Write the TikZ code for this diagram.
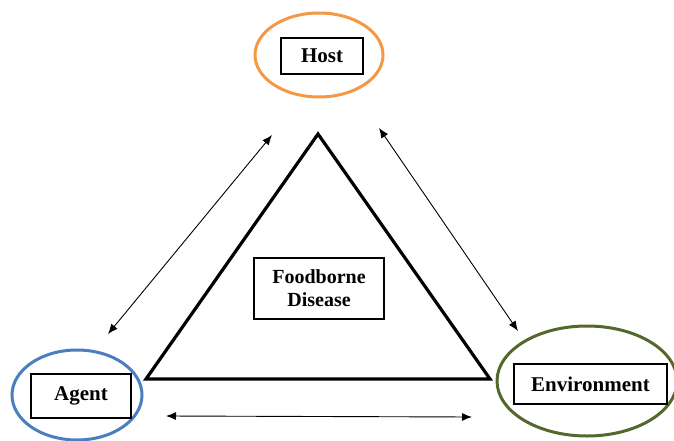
\documentclass[tikz,border=0pt]{standalone}
\usepackage{fontspec}
\setmainfont{Liberation Serif}
\usetikzlibrary{arrows.meta}
\begin{document}
\begin{tikzpicture}[x=1pt,y=-1pt,
  lbl/.style={draw,line width=1.5pt,font=\fontsize{21}{24}\selectfont\bfseries,inner sep=0pt,align=center},
  link/.style={line width=0.9pt,{Latex[length=10pt,width=8pt]}-{Latex[length=10pt,width=8pt]}}]
\useasboundingbox (0,0) rectangle (674,441);
% ellipses
\draw[draw={rgb,255:red,244;green,152;blue,70},line width=3pt] (319,55) ellipse [x radius=64,y radius=42];
\draw[draw={rgb,255:red,75;green,126;blue,192},line width=3pt] (77,395) ellipse [x radius=65,y radius=45];
\draw[draw={rgb,255:red,83;green,104;blue,42},line width=3pt] (587,381) ellipse [x radius=90,y radius=55];
% boxes
\node[lbl,minimum width=82,minimum height=36] (host) at (322,56) {Host};
\node[lbl,minimum width=100,minimum height=44] (agent) at (81,396) {Agent};
\node[lbl,minimum width=153,minimum height=40] (env) at (590.5,384) {Environment};
\node[lbl,minimum width=130,minimum height=61,font=\fontsize{20}{23}\selectfont\bfseries] (fd) at (319,288.5) {Foodborne\\Disease};
% triangle
\coordinate (top) at (318,134);
\coordinate (bl) at (146,379);
\coordinate (br) at (490,379);
\draw[line width=3.2pt,line join=miter] (top) -- (bl) -- (br) -- cycle;
% arrows
\coordinate (a1) at (108,334);
\coordinate (a2) at (272,135);
\coordinate (b1) at (379,128);
\coordinate (b2) at (518,331);
\coordinate (c1) at (166,416);
\coordinate (c2) at (472,417);
\draw[link] (a1) -- (a2);
\draw[link] (b1) -- (b2);
\draw[link] (c1) -- (c2);
\end{tikzpicture}
\end{document}
